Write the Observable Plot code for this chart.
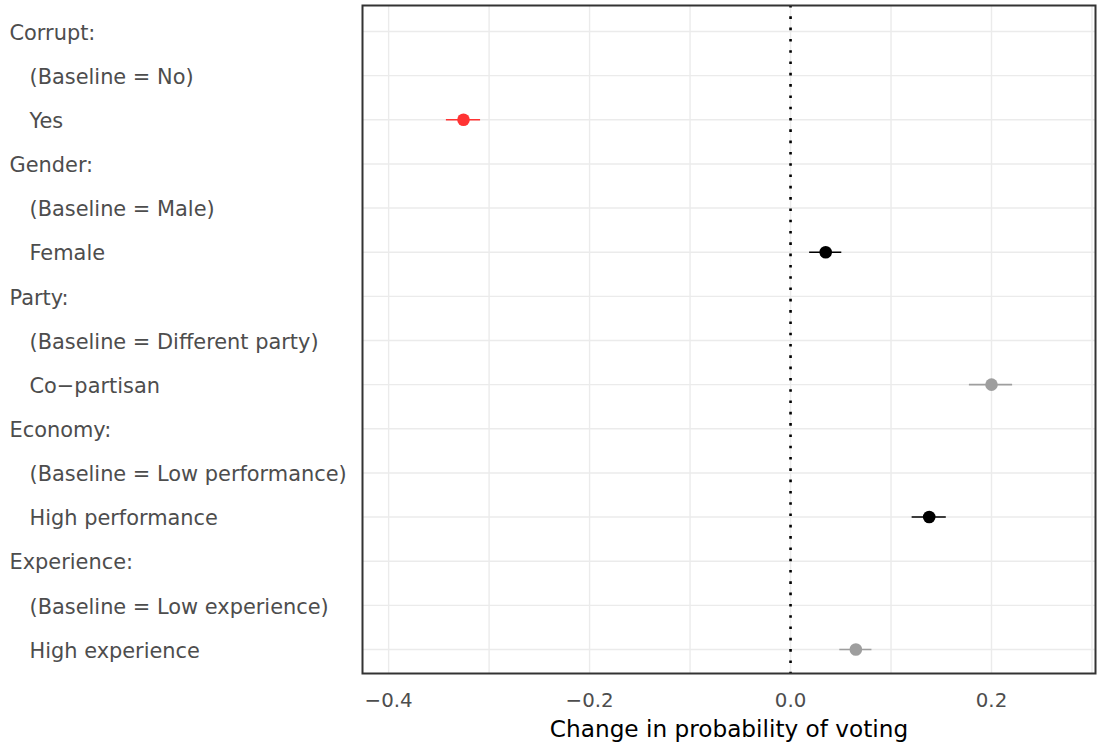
<!DOCTYPE html>
<html>
<head>
<meta charset="utf-8">
<script src="https://cdn.jsdelivr.net/npm/d3@7"></script>
<script src="https://cdn.jsdelivr.net/npm/@observablehq/plot@0.6"></script>
<style>
  html, body { margin: 0; padding: 0; background: #fff; }
  svg { display: block; }
</style>
</head>
<body>
<div id="chart"></div>
<script>
// Rows of the coefficient plot, top to bottom
const rows = [
  "Corrupt:", "(Baseline = No)", "Yes",
  "Gender:", "(Baseline = Male)", "Female",
  "Party:", "(Baseline = Different party)", "Co\u2212partisan",
  "Economy:", "(Baseline = Low performance)", "High performance",
  "Experience:", "(Baseline = Low experience)", "High experience"
];
const headers = ["Corrupt:", "Gender:", "Party:", "Economy:", "Experience:"];

// Estimated effects (AMCE) with 95% intervals
const terms     = ["Yes", "Female", "Co\u2212partisan", "High performance", "High experience"];
const estimates = [-0.3255, 0.035, 0.200, 0.138, 0.065];
const lowers    = [-0.3425, 0.019, 0.178, 0.121, 0.049];
const uppers    = [-0.3085, 0.051, 0.221, 0.155, 0.081];
const groups    = ["neg", "pos", "grey", "pos", "grey"];

const groupDomain = ["neg", "pos", "grey"];
const groupColors = ["#ff3333", "#000000", "#9e9e9e"];

const xTicks = [-0.4, -0.2, 0.0, 0.2];
const xGrid  = [-0.4, -0.3, -0.2, -0.1, 0.0, 0.1, 0.2, 0.3];

const effects = terms.map((t, i) => ({
  term: t, est: estimates[i], lo: lowers[i], hi: uppers[i], group: groups[i]
}));
const labelRows = rows.map(r => ({ row: r, header: headers.includes(r) }));

const chart = Plot.plot({
  width: 1097,
  height: 744,
  marginLeft: 362,
  marginRight: 2,
  marginTop: 5,
  marginBottom: 71,
  style: { fontFamily: "'DejaVu Sans', sans-serif", background: "#fff" },
  x: { domain: [-0.426, 0.3035] },
  y: { type: "point", domain: rows, range: [31, 649], padding: 0, round: false, axis: null },
  color: { domain: groupDomain, range: groupColors },
  marks: [
    Plot.gridX(xGrid, { stroke: "#ebebeb", strokeOpacity: 1, strokeWidth: 1.4 }),
    Plot.gridY(rows, { stroke: "#ebebeb", strokeOpacity: 1, strokeWidth: 1.4 }),
    Plot.ruleX([0], { stroke: "#000", strokeWidth: 2.6, strokeDasharray: "2.6,8.7" }),
    Plot.ruleY(effects, { y: "term", x1: "lo", x2: "hi", stroke: "group", strokeWidth: 1.6 }),
    Plot.dot(effects, { y: "term", x: "est", fill: "group", r: 6.3 }),
    Plot.frame({ stroke: "#333333", strokeWidth: 2 }),
    Plot.text(labelRows, {
      y: "row", text: "row", frameAnchor: "left", textAnchor: "start",
      dx: -353, dy: 1.5, fontSize: 20.9, fill: "#4d4d4d",
      filter: d => d.header
    }),
    Plot.text(labelRows, {
      y: "row", text: "row", frameAnchor: "left", textAnchor: "start",
      dx: -333, dy: 1.5, fontSize: 20.9, fill: "#4d4d4d",
      filter: d => !d.header
    }),
    Plot.axisX(xTicks, {
      tickSize: 0, tickPadding: 19, fontSize: 19.8, color: "#4d4d4d",
      tickFormat: d3.format(".1f"), label: null
    }),
    Plot.axisX([], {
      label: "Change in probability of voting", labelAnchor: "center",
      labelArrow: "none", labelOffset: 63, fontSize: 23.2, color: "#000"
    })
  ]
});

document.getElementById("chart").appendChild(chart);
</script>
</body>
</html>
